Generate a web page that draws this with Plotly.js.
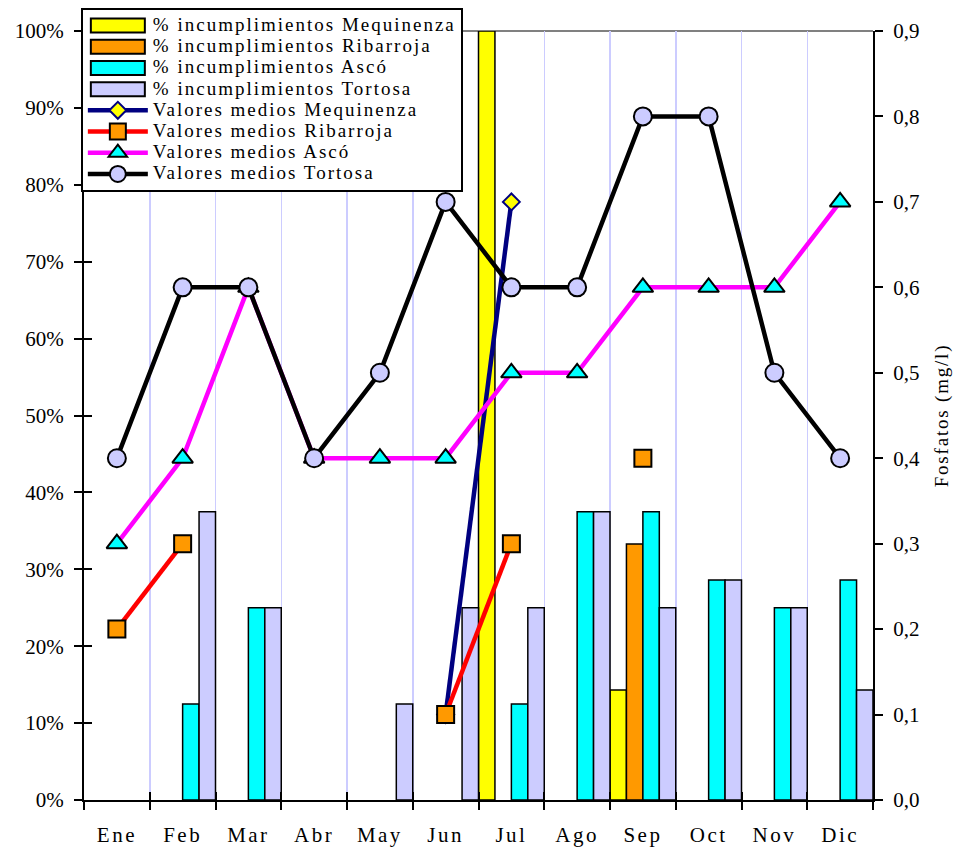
<!DOCTYPE html>
<html>
<head>
<meta charset="utf-8">
<script src="https://cdn.plot.ly/plotly-3.0.1.min.js"></script>
<style>
  html, body { margin: 0; padding: 0; background: #fff; }
  text.legendtext { letter-spacing: 2px; font-size: 19px !important; }
  .xtick text { letter-spacing: 2.5px; }
  .g-y2title text { letter-spacing: 1.8px; }
</style>
</head>
<body>
<div id="chart" style="width:955px;height:850px;"></div>
<script>
const months = ['Ene','Feb','Mar','Abr','May','Jun','Jul','Ago','Sep','Oct','Nov','Dic'];

// % incumplimientos (fraction of 1)
const pctMequinenza = [null, null, null, null, null, null, 1.0, null, 0.143, null, null, null];
const pctRibarroja  = [null, null, null, null, null, null, null, null, 0.333, null, null, null];
const pctAsco       = [null, 0.125, 0.25, null, null, null, 0.125, 0.375, 0.375, 0.286, 0.25, 0.286];
const pctTortosa    = [null, 0.375, 0.25, null, 0.125, 0.25, 0.25, 0.375, 0.25, 0.286, 0.25, 0.143];

// Valores medios fosfatos (mg/l)
const medMequinenza = [null, null, null, null, null, 0.1, 0.7, null, null, null, null, null];
const medRibarroja  = [0.2, 0.3, null, null, null, 0.1, 0.3, null, 0.4, null, null, null];
const medAsco       = [0.3, 0.4, 0.6, 0.4, 0.4, 0.4, 0.5, 0.5, 0.6, 0.6, 0.6, 0.7];
const medTortosa    = [0.4, 0.6, 0.6, 0.4, 0.5, 0.7, 0.6, 0.6, 0.8, 0.8, 0.5, 0.4];

const leftTicks = [0, 0.1, 0.2, 0.3, 0.4, 0.5, 0.6, 0.7, 0.8, 0.9, 1.0];
const rightTicks = [0, 0.1, 0.2, 0.3, 0.4, 0.5, 0.6, 0.7, 0.8, 0.9];
const boundaries = [-0.5, 0.5, 1.5, 2.5, 3.5, 4.5, 5.5, 6.5, 7.5, 8.5, 9.5, 10.5, 11.5];

const FONT = 'Liberation Serif, Times New Roman, serif';

function bar(name, y, color) {
  return {
    type: 'bar', name: name, x: months, y: y,
    marker: { color: color, line: { color: '#000', width: 1.5 } },
    xaxis: 'x', yaxis: 'y', hoverinfo: 'skip'
  };
}
function line(name, y, lineColor, symbol, fill, mLineColor, size) {
  return {
    type: 'scatter', mode: 'lines+markers', name: name, x: months, y: y,
    line: { color: lineColor, width: 4.5 },
    marker: { symbol: symbol, size: size, color: fill, line: { color: mLineColor, width: 2 } },
    connectgaps: false, xaxis: 'x', yaxis: 'y2', hoverinfo: 'skip'
  };
}

const data = [
  bar('% incumplimientos Mequinenza', pctMequinenza, '#ffff00'),
  bar('% incumplimientos Ribarroja', pctRibarroja, '#ff9900'),
  bar('% incumplimientos Ascó', pctAsco, '#00ffff'),
  bar('% incumplimientos Tortosa', pctTortosa, '#ccccff'),
  line('Valores medios Mequinenza', medMequinenza, '#000080', 'diamond', '#ffff00', '#000080', 13),
  line('Valores medios Ribarroja', medRibarroja, '#ff0000', 'square', '#ff9900', '#000000', 17),
  line('Valores medios Ascó', medAsco, '#ff00ff', 'triangle-up', '#00ffff', '#000000', 18),
  line('Valores medios Tortosa', medTortosa, '#000000', 'circle', '#ccccff', '#000000', 18),
  { type: 'scatter', mode: 'markers', x: [0], y: [0], xaxis: 'x2', yaxis: 'y3',
    marker: { opacity: 0 }, showlegend: false, hoverinfo: 'skip' }
];

const layout = {
  width: 955, height: 850,
  margin: { l: 84, r: 82, t: 31, b: 50, pad: 0, autoexpand: false },
  paper_bgcolor: '#ffffff', plot_bgcolor: '#ffffff',
  font: { family: FONT, size: 20, color: '#000' },
  separators: ',.',
  barmode: 'group', bargap: 0, bargroupgap: 0,
  showlegend: true,
  legend: {
    x: -0.004, y: 1.03, xanchor: 'left', yanchor: 'top',
    bgcolor: '#ffffff', bordercolor: '#000000', borderwidth: 2,
    font: { family: FONT, size: 14, color: '#000' },
    traceorder: 'normal', tracegroupgap: 0, itemwidth: 60
  },
  xaxis: {
    type: 'category', categoryorder: 'array', categoryarray: months,
    range: [-0.5, 11.5], tickson: 'boundaries',
    ticks: 'outside', ticklen: 8, tickwidth: 2, tickcolor: '#000',
    showline: true, linecolor: '#000', linewidth: 2,
    showgrid: true, gridcolor: '#ccccff', gridwidth: 1.5,
    tickfont: { family: FONT, size: 21 }, ticklabelstandoff: 15,
    fixedrange: true, zeroline: false
  },
  xaxis2: {
    overlaying: 'x', anchor: 'y3', side: 'bottom', range: [-0.5, 11.5],
    tickmode: 'array', tickvals: boundaries, ticks: 'inside', ticklen: 8, tickwidth: 2, tickcolor: '#000',
    showticklabels: false, showgrid: false, zeroline: false, showline: false, fixedrange: true
  },
  yaxis: {
    range: [0, 1], tickmode: 'array', tickvals: leftTicks, tickformat: '.0%',
    ticks: 'outside', ticklen: 8, tickwidth: 2, tickcolor: '#000',
    showline: true, linecolor: '#000', linewidth: 2,
    showgrid: false, zeroline: false, tickfont: { family: FONT, size: 21 }, ticklabelstandoff: 6,
    fixedrange: true
  },
  yaxis2: {
    overlaying: 'y', side: 'right', anchor: 'x', range: [0, 0.9],
    tickmode: 'array', tickvals: rightTicks, tickformat: '.1f',
    ticks: 'outside', ticklen: 8, tickwidth: 2, tickcolor: '#000',
    showline: true, linecolor: '#000', linewidth: 2,
    showgrid: false, zeroline: false, tickfont: { family: FONT, size: 21 }, ticklabelstandoff: 6,
    title: { text: 'Fosfatos (mg/l)', font: { family: FONT, size: 19 }, standoff: 16 },
    fixedrange: true
  },
  yaxis3: {
    overlaying: 'y', side: 'left', anchor: 'x2', range: [0, 1],
    tickmode: 'array', tickvals: leftTicks, ticks: 'inside', ticklen: 8, tickwidth: 2, tickcolor: '#000',
    showticklabels: false, showgrid: false, zeroline: false, showline: false, fixedrange: true
  },
  shapes: [
    { type: 'line', xref: 'paper', yref: 'paper', x0: 0, x1: 1, y0: 1, y1: 1,
      line: { color: '#808080', width: 2 }, layer: 'below' }
  ]
};

function widenBarSwatches() {
  // widen the legend swatches of the bar series to match the original's rectangles
  document.querySelectorAll('#chart .legend .legendpoints path').forEach(function (p) {
    const d = p.getAttribute('d') || '';
    if (/^M6,6H-6V-6H6Z$/.test(d.replace(/\s/g, ''))) {
      p.setAttribute('d', 'M27,7H-27V-7H27Z');
      p.style.strokeWidth = '2px';
    }
  });
}

Plotly.newPlot('chart', data, layout, { staticPlot: true, displayModeBar: false }).then(function () {
  widenBarSwatches();
  setTimeout(widenBarSwatches, 50);
});
</script>
</body>
</html>
